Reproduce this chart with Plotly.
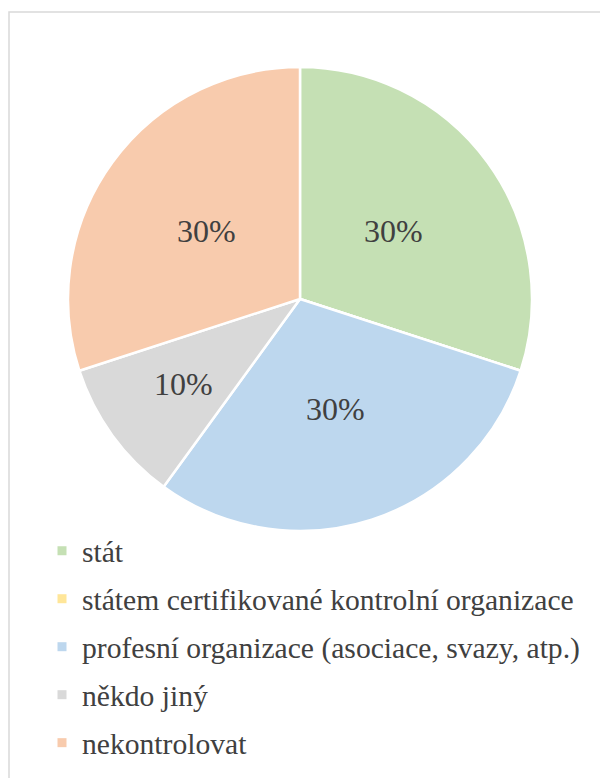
import math
import plotly.graph_objects as go

labels = ["stát", "státem certifikované kontrolní organizace",
          "profesní organizace (asociace, svazy, atp.)", "někdo jiný", "nekontrolovat"]
values = [30, 0, 30, 10, 30]
colors = ["#C5E0B4", "#FFE699", "#BDD7EE", "#D9D9D9", "#F8CBAD"]

W, H = 608, 778
OFF = 8  # page body margin
cx, cy, R = 300 - OFF, 299 - OFF, 232
SERIF = "Liberation Serif"

fig = go.Figure()
fig.add_trace(go.Pie(
    labels=labels, values=values, sort=False, direction="clockwise", rotation=0,
    marker=dict(colors=colors, line=dict(color="white", width=2.5)),
    textinfo="none", showlegend=False, hoverinfo="skip",
    domain=dict(x=[(cx - R) / W, (cx + R) / W], y=[(H - cy - R) / H, (H - cy + R) / H]),
))

# percentage labels placed along each slice's bisector (Excel-like best fit)
total = sum(values)
cum = 0
for v in values:
    if v > 0:
        frac = v / total
        theta = 2 * math.pi * (cum + frac / 2)
        rf = 0.5 if frac >= 0.2 else 0.62
        px = cx + rf * R * math.sin(theta)
        py = cy - rf * R * math.cos(theta)
        fig.add_annotation(x=px / W, y=1 - py / H, xref="paper", yref="paper",
                           xanchor="center", yanchor="middle",
                           text=f"{round(frac * 100)}%", showarrow=False,
                           font=dict(family=SERIF, size=32, color="#404040"))
    cum += v / total

for i, (lab, col) in enumerate(zip(labels, colors)):
    fig.add_trace(go.Scatter(
        x=[None], y=[None], mode="markers", name=lab, legendgroup=str(i),
        marker=dict(symbol="square", size=9, color=col),
    ))

fig.add_shape(type="rect", xref="paper", yref="paper",
              x0=1 / W, x1=1.2, y0=-0.2, y1=(H - 12 + OFF) / H,
              line=dict(color="#D9D9D9", width=1.5), fillcolor="rgba(0,0,0,0)", layer="below")

fig.update_layout(
    template="none",
    width=W, height=H, margin=dict(l=0, r=0, t=0, b=0),
    paper_bgcolor="white", plot_bgcolor="white",
    font=dict(family=SERIF),
    xaxis=dict(visible=False), yaxis=dict(visible=False),
    legend=dict(x=(42 - OFF) / W, y=(H - 525 + OFF) / H, xanchor="left", yanchor="top",
                traceorder="grouped", tracegroupgap=6.5,
                font=dict(family=SERIF, size=29.6, color="#404040"),
                bgcolor="rgba(0,0,0,0)"),
)
fig.write_html("out.html")
